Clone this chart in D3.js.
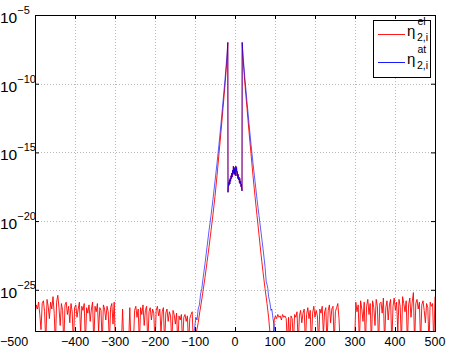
<!DOCTYPE html>
<html><head><meta charset="utf-8">
<script src="https://cdn.jsdelivr.net/npm/d3@7"></script>
<style>
html,body{margin:0;padding:0;background:#fff;}
svg{display:block;}
text{font-family:"Liberation Sans",Arial,Helvetica,sans-serif;fill:#000;}
</style></head>
<body>
<svg id="chart" width="450" height="348"></svg>
<script>
// ---------- data (values are log10 of eta) ----------
const xTicks = [-500,-400,-300,-200,-100,0,100,200,300,400,500];
const yTickExps = [-5,-10,-15,-20,-25];
const seriesNames = ["el","at"];
const seriesColors = ["#ff0000","#0000ff"];

// red noise floor, left side: x = -500 ... -104, step 3
const elNoiseLeftStart = -500, elNoiseStep = 3;
const elNoiseLeft = [
-26.9,-26.1,-26.4,-25.9,-26.8,-27.9,-26.0,-25.8,-26.6,-29,-25.7,-26.2,-27.1,-25.9,-26.4,-25.5,-26.7,-29,-25.9,-25.4,
-26.3,-27.6,-26.0,-26.5,-29,-26.1,-25.9,-26.8,-26.2,-27.4,-26.0,-26.6,-29,-26.3,-26.1,-27.0,-26.4,-25.9,-28.2,-26.2,
-26.5,-26.0,-29,-26.3,-26.7,-26.1,-27.3,-26.4,-25.9,-29,-26.2,-26.6,-26.0,-28.0,-26.3,-26.5,-29,-26.1,-26.4,-27.2,
-26.2,-26.6,-29,-26.3,-26.0,-27.5,-25.9,-29,-29,-29,-29,-29,-29,-26.4,-29,-29,-29,-29,-29,-26.3,
-29,-29,-29,-26.5,-26.2,-27.0,-26.4,-29,-26.3,-26.8,-26.1,-27.6,-26.5,-26.2,-29,-26.6,-26.3,-27.2,-26.4,-26.7,
-29,-26.5,-26.2,-26.9,-26.4,-28.1,-26.6,-26.3,-29,-26.7,-26.4,-27.3,-26.6,-26.9,-29,-26.5,-26.8,-27.5,-26.7,-29,
-26.9,-27.2,-26.8,-29,-27.0,-26.8,-27.3,-26.9,-29,-27.1,-26.8,-26.6,-29
];
// red noise floor, right side: x = 98 ... 500, step 3
const elNoiseRightStart = 98;
const elNoiseRight = [
-27.2,-26.9,-27.1,-26.8,-27.0,-26.9,-27.2,-26.8,-27.0,-26.9,-27.1,-29,-27.0,-29,-26.9,-27.1,-29,-26.8,-27.0,-26.6,
-29,-26.9,-26.5,-27.4,-26.7,-26.4,-29,-26.8,-26.3,-27.1,-26.5,-29,-26.7,-26.2,-27.0,-26.5,-26.9,-29,-26.4,-26.7,
-26.2,-28.3,-26.6,-26.3,-29,-26.5,-26.1,-27.4,-26.4,-26.2,-29,-26.6,-26.3,-26.0,-27.1,-29,-29,-29,-29,-29,
-29,-29,-29,-29,-29,-29,-29,-29,-25.9,-26.6,-26.1,-29,-25.8,-26.4,-27.3,-25.9,-29,-26.2,-25.7,-26.8,
-26.0,-29,-25.8,-26.3,-27.6,-25.7,-26.2,-29,-26.0,-25.9,-26.7,-25.6,-29,-26.3,-25.8,-27.2,-26.1,-25.7,-29,-26.2,
-25.6,-26.5,-25.9,-28.0,-25.7,-26.2,-29,-25.5,-26.0,-26.6,-25.8,-29,-26.1,-25.6,-27.0,-25.9,-25.2,-29,-26.0,-25.7,
-26.4,-25.9,-29,-26.1,-25.8,-26.5,-27.4,-26.0,-26.3,-29,-25.9,-26.2,-26.0,-29,-25.5
];

// central core, eta^el
const elCoreX = [-100,-96,-92,-88,-84,-80,-75,-70,-65,-60,-55,-50,-45,-40,-35,-30,-25,-20,-18];
const elCoreE = [-29,-28.0,-27.4,-26.6,-25.9,-25.1,-24.1,-23.0,-21.9,-20.7,-19.5,-18.2,-16.7,-15.1,-13.5,-11.8,-10.1,-8.2,-7.0];
const elCoreRX = [18,20,25,30,35,40,45,50,55,60,65,70,75,80,84,87,90,94];
const elCoreRE = [-7.0,-8.2,-10.1,-11.8,-13.5,-15.1,-16.7,-18.2,-19.6,-21.0,-22.4,-23.7,-24.9,-26.0,-27.0,-28.0,-29,-29];

// central plateau between the two peaks (both series)
const midX = [-17.5,-17,-16,-15,-14,-13,-12,-11,-10,-9,-8,-7,-6,-5,-4,-3,-2,-1,0,1,2,3,4,5,6,7,8,9,10,11,12,13,14,15,16,17,17.5];
const elMid = [-17.9,-17.6,-17.2,-17.4,-17.0,-17.3,-16.9,-17.1,-16.7,-16.9,-16.5,-16.8,-16.3,-16.6,-16.0,-16.5,-16.1,-16.6,-16.2,-16.7,-16.0,-16.4,-16.1,-16.7,-16.4,-16.9,-16.6,-17.0,-16.8,-17.2,-16.9,-17.3,-17.1,-17.5,-17.3,-17.7,-17.8];
const atMid = [-17.9,-17.6,-17.2,-17.4,-17.0,-17.3,-16.9,-17.1,-16.7,-16.9,-16.5,-16.8,-16.3,-16.6,-16.0,-16.5,-16.1,-16.6,-16.2,-16.7,-16.0,-16.4,-16.1,-16.7,-16.4,-16.9,-16.6,-17.0,-16.8,-17.2,-16.9,-17.3,-17.1,-17.5,-17.3,-17.7,-17.8];

// eta^at core
const atCoreX = [-108,-104,-101,-98,-95,-92,-89,-86,-83,-80,-75,-70,-65,-60,-55,-50,-45,-40,-35,-30,-25,-20,-18];
const atCoreE = [-29,-28.3,-27.8,-27.0,-27.2,-26.4,-26.1,-25.3,-24.9,-24.2,-23.1,-21.9,-20.7,-19.6,-18.4,-17.1,-15.8,-14.4,-12.9,-11.3,-9.7,-7.9,-7.0];
const atCoreRX = [18,20,25,30,35,40,45,50,55,60,65,70,75,78,80,82,84,87,90,92,95,98,100,103];
const atCoreRE = [-7.0,-7.9,-9.7,-11.3,-12.9,-14.4,-15.8,-17.1,-18.4,-19.6,-20.8,-22.0,-23.3,-24.4,-24.6,-24.9,-25.5,-25.9,-26.5,-26.4,-27.1,-27.6,-28.1,-29];

// ---------- build series ----------
const zip = (xs, es) => xs.map((x,i)=>({x, v: Math.pow(10, es[i])}));
const elSeries = [].concat(
  elNoiseLeft.map((e,i)=>({x: elNoiseLeftStart + i*elNoiseStep, v: Math.pow(10,e)})),
  zip(elCoreX, elCoreE), zip(midX, elMid), zip(elCoreRX, elCoreRE),
  elNoiseRight.map((e,i)=>({x: elNoiseRightStart + i*elNoiseStep, v: Math.pow(10,e)}))
);
const atSeries = [].concat(zip(atCoreX, atCoreE), zip(midX, atMid), zip(atCoreRX, atCoreRE));

// ---------- layout ----------
const L=35, R=435, T=15, B=331;
const svg = d3.select("#chart");
const x = d3.scaleLinear().domain([-500,500]).range([L,R]);
const y = d3.scaleLog().domain([1e-28,1e-5]).range([B,T]);

// grid
const grid = svg.append("g");
xTicks.slice(1,-1).forEach(t=>{
  grid.append("line").attr("x1",Math.round(x(t))+0.5).attr("x2",Math.round(x(t))+0.5)
    .attr("y1",T).attr("y2",B).attr("stroke","#b8b8b8").attr("stroke-dasharray","1,2");
});
yTickExps.slice(1).forEach(e=>{
  const yy = Math.round(y(Math.pow(10,e)))+0.5;
  grid.append("line").attr("x1",L).attr("x2",R).attr("y1",yy).attr("y2",yy)
    .attr("stroke","#b8b8b8").attr("stroke-dasharray","1,2");
});

// clip
svg.append("clipPath").attr("id","clip").append("rect")
  .attr("x",L).attr("y",T).attr("width",R-L).attr("height",B-T);

const line = d3.line().x(d=>x(d.x)).y(d=>y(d.v));
const plot = svg.append("g").attr("clip-path","url(#clip)");
plot.append("path").datum(elSeries).attr("d",line).attr("fill","none")
  .attr("stroke",seriesColors[0]).attr("stroke-width",0.9);
plot.append("path").datum(atSeries).attr("d",line).attr("fill","none")
  .attr("stroke",seriesColors[1]).attr("stroke-width",0.8).attr("stroke-opacity",0.8);

// axes (box with inward ticks on all sides)
const axB = d3.axisBottom(x).tickValues(xTicks).tickSize(-4).tickFormat("");
const axT = d3.axisTop(x).tickValues(xTicks).tickSize(-4).tickFormat("");
const yTickVals = yTickExps.map(e=>Math.pow(10,e));
const axL = d3.axisLeft(y).tickValues(yTickVals).tickSize(-4).tickFormat("");
const axR = d3.axisRight(y).tickValues(yTickVals).tickSize(-4).tickFormat("");
[[axB,`translate(0,${B})`],[axT,`translate(0,${T})`],[axL,`translate(${L},0)`],[axR,`translate(${R},0)`]]
.forEach(([ax,tr])=>{
  const g = svg.append("g").attr("transform",tr).call(ax);
  g.select(".domain").attr("stroke","#000");
  g.selectAll(".tick line").attr("stroke","#000");
});

// x tick labels
const xl = svg.append("g").attr("font-size",12.5);
xTicks.forEach(t=>{
  const lab = (t<0 ? "\u2212" + Math.abs(t) : String(t));
  const tx = xl.append("text").attr("y",346).text(lab);
  if (t===-500) tx.attr("x",0).attr("text-anchor","start");
  else tx.attr("x",x(t)).attr("text-anchor","middle");
});

// y tick labels 10^e
yTickExps.forEach(e=>{
  const yy = y(Math.pow(10,e));
  const t = svg.append("text").attr("x",0).attr("y",yy+8).attr("font-size",15.5);
  t.append("tspan").text("10");
  t.append("tspan").attr("font-size",11).attr("dy",-9).text("\u2212"+Math.abs(e));
});

// legend
const lg = svg.append("g");
lg.append("rect").attr("x",373.5).attr("y",20.5).attr("width",57).attr("height",57)
  .attr("fill","#fff").attr("stroke","#000");
const entries = [{name:seriesNames[0],color:seriesColors[0],ly:34.5,base:36},
                 {name:seriesNames[1],color:seriesColors[1],ly:62.5,base:64}];
entries.forEach(en=>{
  lg.append("line").attr("x1",378).attr("x2",405).attr("y1",en.ly).attr("y2",en.ly)
    .attr("stroke",en.color).attr("stroke-width",0.9);
  lg.append("text").attr("x",407).attr("y",en.base).attr("font-size",15).text("\u03b7");
  lg.append("text").attr("x",417).attr("y",en.base+5).attr("font-size",10.5).text("2,i");
  lg.append("text").attr("x",417.5).attr("y",en.base-11).attr("font-size",10.5).text(en.name);
});
</script>
</body></html>
